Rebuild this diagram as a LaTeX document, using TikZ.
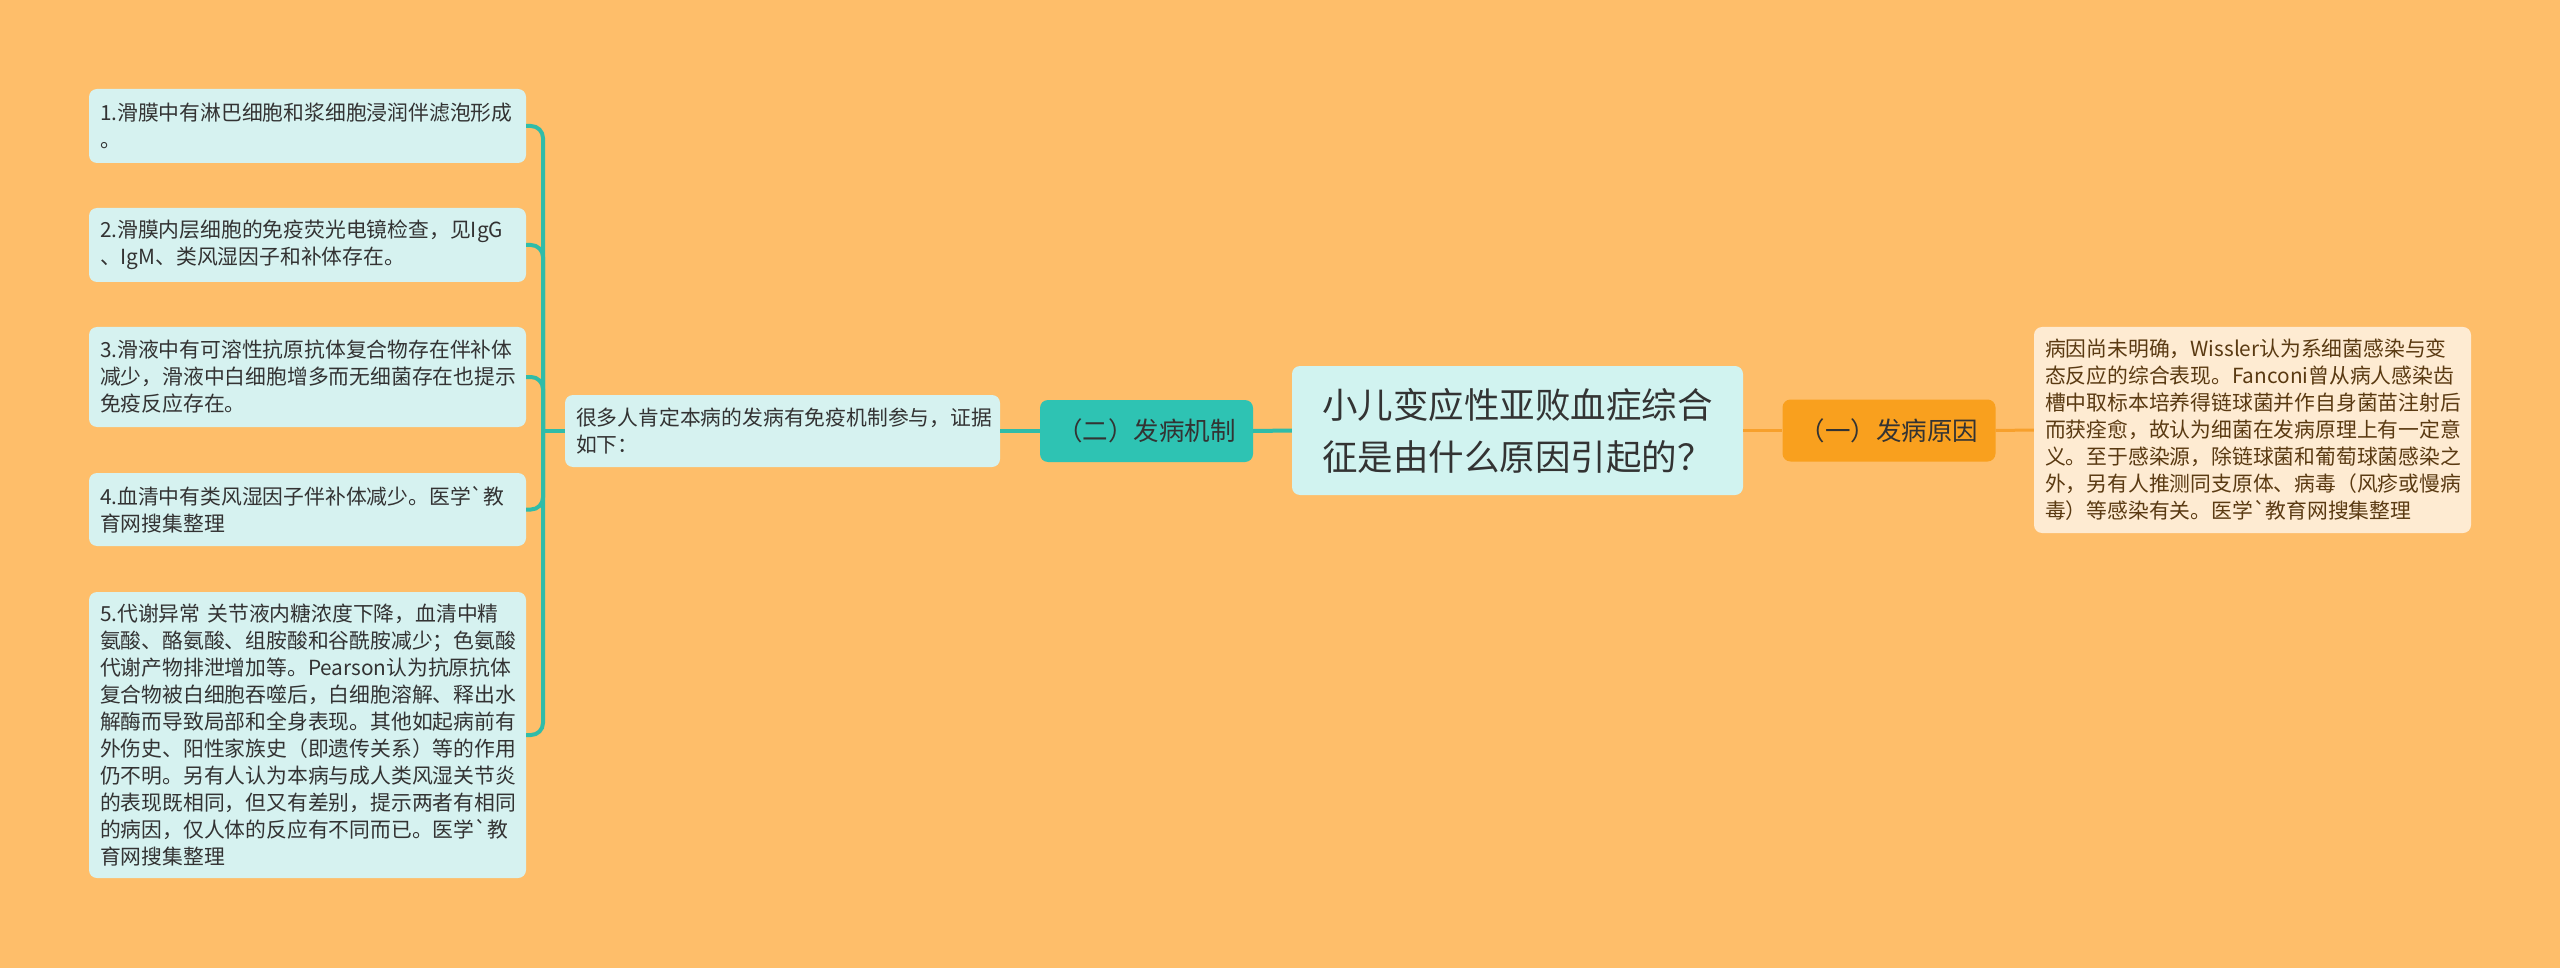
\documentclass[tikz,border=0pt]{standalone}
\usepackage{fontspec}
\newfontfamily\cjk{Noto Sans CJK SC}

\definecolor{bgorange}{HTML}{FEBE6A}
\definecolor{leafcyan}{HTML}{D6F2F0}
\definecolor{titlecyan}{HTML}{D1F3F0}
\definecolor{mechteal}{HTML}{2EC3B3}
\definecolor{causeorange}{HTML}{F9A01E}
\definecolor{notecream}{HTML}{FEEBD2}
\definecolor{linkteal}{HTML}{30BCA8}
\definecolor{linkorange}{HTML}{F7A02C}
\definecolor{inkgray}{HTML}{333333}
\definecolor{inkbrown}{HTML}{5A3A12}

\newcommand{\leaffont}{\cjk\fontsize{20.8}{27}\selectfont}
\newcommand{\branchfont}{\cjk\fontsize{25.5}{30}\selectfont}
\newcommand{\titlefont}{\cjk\fontsize{35.5}{52}\selectfont}

\tikzset{
	leaf/.style={fill=leafcyan, rounded corners=8pt, text=inkgray, align=left, text width=415pt, inner xsep=11pt, inner ysep=0pt, font=\leaffont},
	note/.style={fill=notecream, rounded corners=8pt, text=inkbrown, align=left, text width=415pt, inner xsep=11pt, inner ysep=0pt, font=\leaffont},
	branch/.style={rounded corners=8pt, text=inkgray, minimum width=213pt, minimum height=62pt, inner sep=0pt, font=\branchfont},
	topic/.style={fill=titlecyan, rounded corners=8pt, text=inkgray, align=left, text width=391pt, inner xsep=30pt, inner ysep=0pt, minimum height=129pt, font=\titlefont},
	tealink/.style={draw=linkteal, line width=4pt, rounded corners=12pt},
	orangelink/.style={draw=linkorange, line width=3pt}
}

\begin{document}
\begin{tikzpicture}[x=1pt, y=-1pt]

	\fill[bgorange] (0,0) rectangle (2560,968);
	\useasboundingbox (0,0) rectangle (2560,968);

	% centre and the two branches
	\node[topic] (title) at (1517.5,430.5) {小儿变应性亚败血症综合\\征是由什么原因引起的？};
	\node[branch, fill=mechteal] (mech) at (1146.5,431) {（二）发病机制};
	\node[branch, fill=causeorange] (cause) at (1889,430.5) {（一）发病原因};

	\node[leaf, text width=413pt, minimum height=72pt] (proof) at (782.5,431) {很多人肯定本病的发病有免疫机制参与，证据\\如下：};
	\node[note, minimum height=206pt] (detail) at (2252.5,430) {病因尚未明确，Wissler认为系细菌感染与变\\态反应的综合表现。Fanconi曾从病人感染齿\\槽中取标本培养得链球菌并作自身菌苗注射后\\而获痊愈，故认为细菌在发病原理上有一定意\\义。至于感染源，除链球菌和葡萄球菌感染之\\外，另有人推测同支原体、病毒（风疹或慢病\\毒）等感染有关。医学\symbol{96}教育网搜集整理};

	% the five findings
	\node[leaf, minimum height=74pt] (b1) at (307.5,126) {1.滑膜中有淋巴细胞和浆细胞浸润伴滤泡形成\\。};
	\node[leaf, minimum height=74pt] (b2) at (307.5,245) {2.滑膜内层细胞的免疫荧光电镜检查，见IgG\\、IgM、类风湿因子和补体存在。};
	\node[leaf, minimum height=100pt] (b3) at (307.5,377) {3.滑液中有可溶性抗原抗体复合物存在伴补体\\减少，滑液中白细胞增多而无细菌存在也提示\\免疫反应存在。};
	\node[leaf, minimum height=73pt] (b4) at (307.5,509.5) {4.血清中有类风湿因子伴补体减少。医学\symbol{96}教\\育网搜集整理};
	\node[leaf, minimum height=286pt] (b5) at (307.5,735) {5.代谢异常 关节液内糖浓度下降，血清中精\\氨酸、酪氨酸、组胺酸和谷酰胺减少；色氨酸\\代谢产物排泄增加等。Pearson认为抗原抗体\\复合物被白细胞吞噬后，白细胞溶解、释出水\\解酶而导致局部和全身表现。其他如起病前有\\外伤史、阳性家族史（即遗传关系）等的作用\\仍不明。另有人认为本病与成人类风湿关节炎\\的表现既相同，但又有差别，提示两者有相同\\的病因，仅人体的反应有不同而已。医学\symbol{96}教\\育网搜集整理};

	\coordinate (spine) at (543,431);

	\draw[tealink] (title.west) -- (mech.east);
	\draw[tealink] (mech.west) -- (proof.east);
	\draw[tealink] (proof.west) -- (spine);
	\foreach \b in {b1,b2,b3,b4,b5}
		\draw[tealink] (spine) |- (\b.east);

	\draw[orangelink] (title.east) -- (cause.west);
	\draw[orangelink] (cause.east) -- (detail.west);

\end{tikzpicture}
\end{document}
